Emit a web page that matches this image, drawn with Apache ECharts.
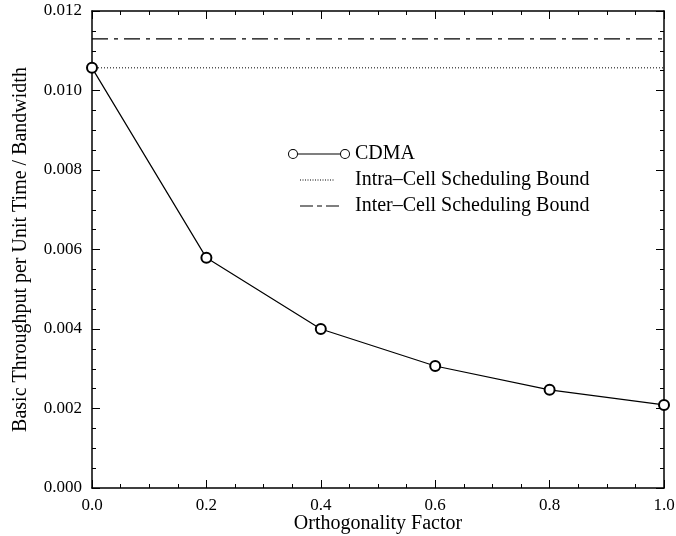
<!DOCTYPE html>
<html>
<head>
<meta charset="utf-8">
<script src="https://cdn.jsdelivr.net/npm/echarts@6/dist/echarts.min.js"></script>
<style>
html, body { margin: 0; padding: 0; background: #fff; }
#chart { width: 676px; height: 536px; }
</style>
</head>
<body>
<div id="chart"></div>
<script>
// orthogonality factor
var factors = [0.0, 0.2, 0.4, 0.6, 0.8, 1.0];
// CDMA throughput
var cdma = [0.01057, 0.00579, 0.00400, 0.00307, 0.00247, 0.00209];
// bounds (flat)
var intraBound = 0.01057;
var interBound = 0.0113;
var boundX = [0.0, 1.0];

var font = 'Liberation Serif';
var black = '#000';

var cdmaData = factors.map(function (x, i) { return [x, cdma[i]]; });
var intraData = boundX.map(function (x) { return [x, intraBound]; });
var interData = boundX.map(function (x) { return [x, interBound]; });

// legend icons, all 62x10 so they are not rescaled
var box = 'M0,0h0.01v0.01h-0.01z M61.99,9.99h0.01v0.01h-0.01z ';
var cdmaIcon = 'path://' + box +
  'M0,5a5,5 0 1,0 10,0a5,5 0 1,0 -10,0z M1,5a4,4 0 1,1 8,0a4,4 0 1,1 -8,0z ' +
  'M10,4.45h42v1.1h-42z ' +
  'M52,5a5,5 0 1,0 10,0a5,5 0 1,0 -10,0z M53,5a4,4 0 1,1 8,0a4,4 0 1,1 -8,0z';
var dotIcon = 'path://' + box;
for (var d = 12; d < 46; d += 2.5) {
  dotIcon += 'M' + d + ',4.5h1v1h-1z ';
}
var dashDotIcon = 'path://' + box +
  'M12,4.4h13v1.2h-13z M29,4.4h5v1.2h-5z M38,4.4h13v1.2h-13z';

var axisLine = { onZero: false, lineStyle: { color: black, width: 1.5 } };
var tick = { inside: true, length: 8, lineStyle: { color: black, width: 1 } };
var minor = { show: true, splitNumber: 4, length: 4, lineStyle: { color: black, width: 1 } };

var myChart = echarts.init(document.getElementById('chart'));
var option = {
  animation: false,
  backgroundColor: '#fff',
  grid: { left: 92, right: 12, top: 11, bottom: 48, outerBoundsMode: 'none', containLabel: false },
  legend: {
    orient: 'vertical',
    left: 283,
    top: 139,
    itemWidth: 62,
    itemHeight: 10,
    itemGap: 6,
    symbolKeepAspect: true,
    textStyle: { fontFamily: font, fontSize: 20, color: black, lineHeight: 20 },
    data: [
      { name: 'CDMA', icon: cdmaIcon, itemStyle: { color: black, borderWidth: 0 } },
      { name: 'Intra\u2013Cell Scheduling Bound', icon: dotIcon, itemStyle: { color: black, borderWidth: 0 } },
      { name: 'Inter\u2013Cell Scheduling Bound', icon: dashDotIcon, itemStyle: { color: black, borderWidth: 0 } }
    ]
  },
  xAxis: [
    {
      type: 'value', min: 0, max: 1, interval: 0.2,
      name: 'Orthogonality Factor', nameLocation: 'middle', nameGap: 26,
      nameMoveOverlap: false,
      nameTextStyle: { fontFamily: font, fontSize: 20, color: black },
      axisLine: axisLine, axisTick: tick, minorTick: minor,
      splitLine: { show: false },
      axisLabel: { fontFamily: font, fontSize: 17, color: black, margin: 9,
        formatter: function (v) { return v.toFixed(1); } }
    },
    {
      type: 'value', min: 0, max: 1, interval: 0.2, position: 'top',
      axisLine: axisLine, axisTick: tick, minorTick: minor,
      splitLine: { show: false }, axisLabel: { show: false }
    }
  ],
  yAxis: [
    {
      type: 'value', min: 0, max: 0.012, interval: 0.002,
      name: 'Basic Throughput per Unit Time / Bandwidth', nameLocation: 'middle', nameGap: 61,
      nameMoveOverlap: false,
      nameTextStyle: { fontFamily: font, fontSize: 20, color: black },
      axisLine: axisLine, axisTick: tick, minorTick: minor,
      splitLine: { show: false },
      axisLabel: { fontFamily: font, fontSize: 17, color: black, margin: 10,
        formatter: function (v) { return v.toFixed(3); } }
    },
    {
      type: 'value', min: 0, max: 0.012, interval: 0.002, position: 'right',
      axisLine: axisLine, axisTick: tick, minorTick: minor,
      splitLine: { show: false }, axisLabel: { show: false }
    }
  ],
  series: [
    {
      name: 'CDMA', type: 'line', data: cdmaData,
      symbol: 'emptyCircle', symbolSize: 10,
      itemStyle: { color: black, borderColor: black, borderWidth: 1 },
      lineStyle: { color: black, width: 1.2 },
      z: 5
    },
    {
      name: 'Intra\u2013Cell Scheduling Bound', type: 'line', data: intraData,
      symbol: 'none', itemStyle: { color: black },
      lineStyle: { color: black, width: 1, type: [1, 2] }
    },
    {
      name: 'Inter\u2013Cell Scheduling Bound', type: 'line', data: interData,
      symbol: 'none', itemStyle: { color: black },
      lineStyle: { color: black, width: 1.2, type: [16, 6, 4, 6] }
    }
  ]
};
myChart.setOption(option);
</script>
</body>
</html>
